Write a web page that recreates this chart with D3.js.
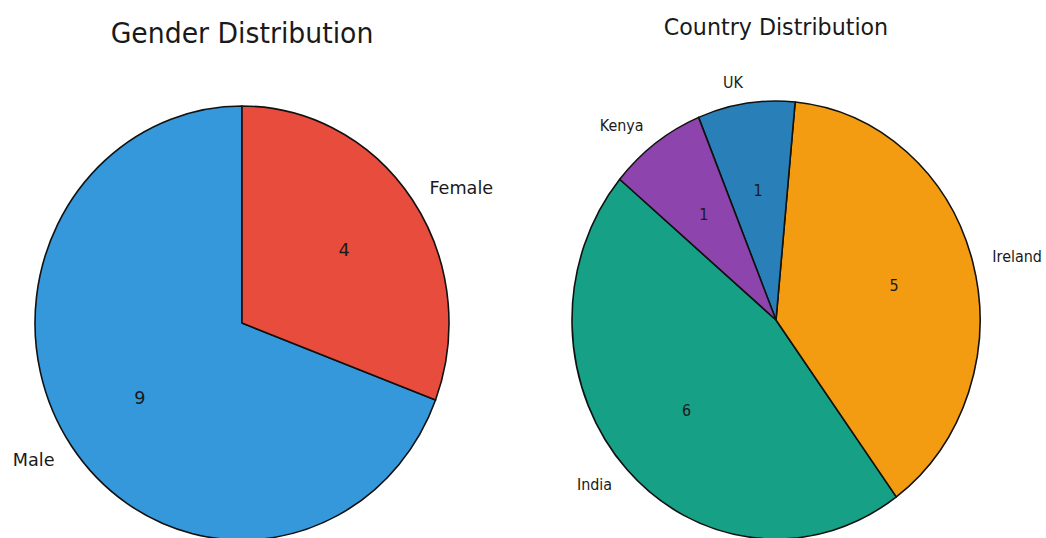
<!DOCTYPE html>
<html>
<head>
<meta charset="utf-8">
<script src="https://cdn.jsdelivr.net/npm/d3@7/dist/d3.min.js"></script>
<style>
  html, body { margin: 0; padding: 0; background: #fff; }
  svg { display: block; }
  text { font-family: "DejaVu Sans", sans-serif; fill: #1a1a1a; }
</style>
</head>
<body>
<svg id="chart" width="1046" height="538"></svg>
<script>
// Gender breakdown
const genderLabels = ["Male", "Female"];
const genderValues = [9, 4];
const genderColors = ["#3498db", "#e74c3c"];

// Country breakdown
const countryLabels = ["India", "Ireland", "UK", "Kenya"];
const countryValues = [6, 5, 1, 1];
const countryColors = ["#16a085", "#f39c12", "#2980b9", "#8e44ad"];

const svg = d3.select("#chart");
const deg = Math.PI / 180;

function drawPie(opts) {
  const { labels, values, colors, title, cx, cy, rx, ry, startDeg,
          labelSize, titleSize, titleY } = opts;

  // pie drawn in a circle of radius ry, then squeezed horizontally to rx
  const g = svg.append("g")
    .attr("transform", `translate(${cx},${cy}) scale(${rx / ry},1)`);

  const pie = d3.pie()
    .value(d => d.value)
    .sort(null)
    .startAngle(startDeg * deg)
    .endAngle(startDeg * deg - 2 * Math.PI);   // counter-clockwise

  const data = labels.map((l, i) => ({ label: l, value: values[i], color: colors[i] }));
  const arcs = pie(data);
  const arc = d3.arc().innerRadius(0).outerRadius(ry);

  g.selectAll("path.slice")
    .data(arcs)
    .join("path")
    .attr("class", "slice")
    .attr("d", arc)
    .attr("fill", d => d.data.color)
    .attr("stroke", "#111")
    .attr("stroke-width", 1.6)
    .attr("stroke-linejoin", "round")
    .attr("vector-effect", "non-scaling-stroke");

  const mid = d => (d.startAngle + d.endAngle) / 2;

  // category labels outside the pie
  g.selectAll("text.cat")
    .data(arcs)
    .join("text")
    .attr("class", "cat")
    .attr("x", d => Math.sin(mid(d)) * ry * 1.1)
    .attr("y", d => -Math.cos(mid(d)) * ry * 1.1)
    .attr("dy", "0.38em")
    .attr("text-anchor", d => Math.sin(mid(d)) > 0 ? "start" : "end")
    .style("font-size", labelSize + "px")
    .text(d => d.data.label);

  // counts inside the slices
  g.selectAll("text.val")
    .data(arcs)
    .join("text")
    .attr("class", "val")
    .attr("x", d => Math.sin(mid(d)) * ry * 0.6)
    .attr("y", d => -Math.cos(mid(d)) * ry * 0.6)
    .attr("dy", "0.38em")
    .attr("text-anchor", "middle")
    .style("font-size", labelSize + "px")
    .text(d => d.data.value);

  g.append("text")
    .attr("x", 0)
    .attr("y", titleY - cy)
    .attr("text-anchor", "middle")
    .style("font-size", titleSize + "px")
    .text(title);
}

drawPie({
  labels: genderLabels, values: genderValues, colors: genderColors,
  title: "Gender Distribution",
  cx: 242, cy: 323, rx: 207, ry: 217, startDeg: 0,
  labelSize: 18.5, titleSize: 28, titleY: 43
});

drawPie({
  labels: countryLabels, values: countryValues, colors: countryColors,
  title: "Country Distribution",
  cx: 776, cy: 320, rx: 204, ry: 219, startDeg: -50,
  labelSize: 15.4, titleSize: 23.8, titleY: 35
});
</script>
</body>
</html>
